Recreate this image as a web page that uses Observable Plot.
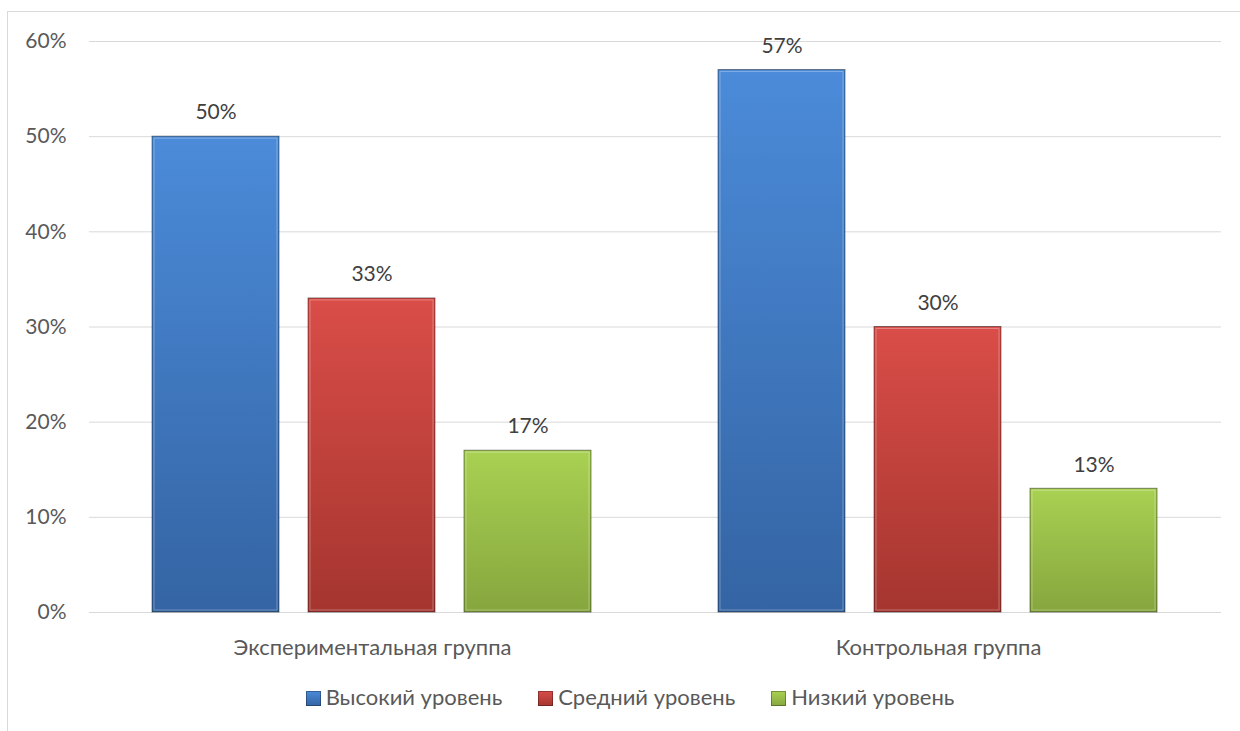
<!DOCTYPE html>
<html>
<head>
<meta charset="utf-8">
<script src="https://cdn.jsdelivr.net/npm/d3@7"></script>
<script src="https://cdn.jsdelivr.net/npm/@observablehq/plot@0.6"></script>
<style>
  html, body { margin: 0; padding: 0; background: #fff; width: 1240px; height: 731px; overflow: hidden; }
  #frame { position: absolute; left: 7px; top: 11px; width: 1300px; height: 800px; border-left: 1px solid #d9d9d9; border-top: 1px solid #d9d9d9; }
  #chart { position: absolute; left: 0; top: 0; }
  #legend { position: absolute; left: 0; top: 684px; width: 1260px; text-align: center; font-family: Lato, "Open Sans", sans-serif; font-size: 22px; line-height: 26px; color: #595959; white-space: nowrap; }
  .item { display: inline-block; margin: 0 18px; }
  .sw { display: inline-block; width: 15px; height: 15px; margin-right: 5px; vertical-align: -1px; box-shadow: inset 0 0 0 1px rgba(0,0,0,0.3); }
</style>
</head>
<body>
<div id="frame"></div>
<div id="chart"></div>
<div id="legend"></div>
<script>
const groups = ["Экспериментальная группа", "Контрольная группа"];
const levels = ["Высокий уровень", "Средний уровень", "Низкий уровень"];
const expValues = [0.50, 0.33, 0.17];
const ctrlValues = [0.57, 0.30, 0.13];
const yTicks = [0, 0.1, 0.2, 0.3, 0.4, 0.5, 0.6];
const gradTop = ["#4b8bd9", "#da4d48", "#a9d152"];
const gradBottom = ["#3464a3", "#a5352f", "#86a63e"];

const data = [];
groups.forEach((g, gi) => {
  const vals = gi === 0 ? expValues : ctrlValues;
  levels.forEach((l, li) => data.push({group: g, level: l, value: vals[li]}));
});

const fmt = d3.format(".0%");
const font = 'Lato, "Open Sans", sans-serif';

const chart = Plot.plot({
  width: 1240,
  height: 680,
  marginLeft: 88,
  marginRight: 19,
  marginTop: 41,
  marginBottom: 68,
  style: {fontFamily: font, fontSize: "21px", color: "#595959", background: "transparent"},
  fx: {domain: groups, padding: 0, label: null},
  x: {domain: levels, paddingInner: 0.185, paddingOuter: 0.397, axis: null},
  y: {domain: [0, 0.6], ticks: yTicks, tickFormat: fmt, label: null},
  color: {domain: levels, range: levels.map((_, i) => `url(#grad${i})`)},
  marks: [
    Plot.gridY(yTicks, {stroke: "#d9d9d9", strokeOpacity: 1, strokeWidth: 1}),
    Plot.axisY({ticks: yTicks, tickFormat: fmt, tickSize: 0, tickPadding: 23, fill: "#595959", fontSize: 21, label: null}),
    Plot.axisFx({anchor: "bottom", tickSize: 0, tickPadding: 27, fill: "#595959", fontSize: 22, label: null}),
    Plot.barY(data, {fx: "group", x: "level", y: "value", fill: "level", stroke: "rgba(0,0,0,0.45)", strokeWidth: 1}),
    Plot.barY(data, {fx: "group", x: "level", y1: 0, y2: "value", fill: "none", stroke: "rgba(255,255,255,0.3)", strokeWidth: 1, inset: 2}),
    Plot.text(data, {fx: "group", x: "level", y: "value", text: d => fmt(d.value), dy: -24, fill: "#404040", fontSize: 21})
  ]
});

// gradients
const svg = d3.select(chart);
const defs = svg.insert("defs", ":first-child");
levels.forEach((_, i) => {
  const lg = defs.append("linearGradient").attr("id", `grad${i}`).attr("x1", 0).attr("y1", 0).attr("x2", 0).attr("y2", 1);
  lg.append("stop").attr("offset", "0%").attr("stop-color", gradTop[i]);
  lg.append("stop").attr("offset", "100%").attr("stop-color", gradBottom[i]);
});
document.getElementById("chart").appendChild(chart);

const legend = d3.select("#legend");
levels.forEach((l, i) => {
  const it = legend.append("span").attr("class", "item");
  it.append("span").attr("class", "sw").style("background", `linear-gradient(${gradTop[i]}, ${gradBottom[i]})`);
  it.append("span").text(l);
});
</script>
</body>
</html>
